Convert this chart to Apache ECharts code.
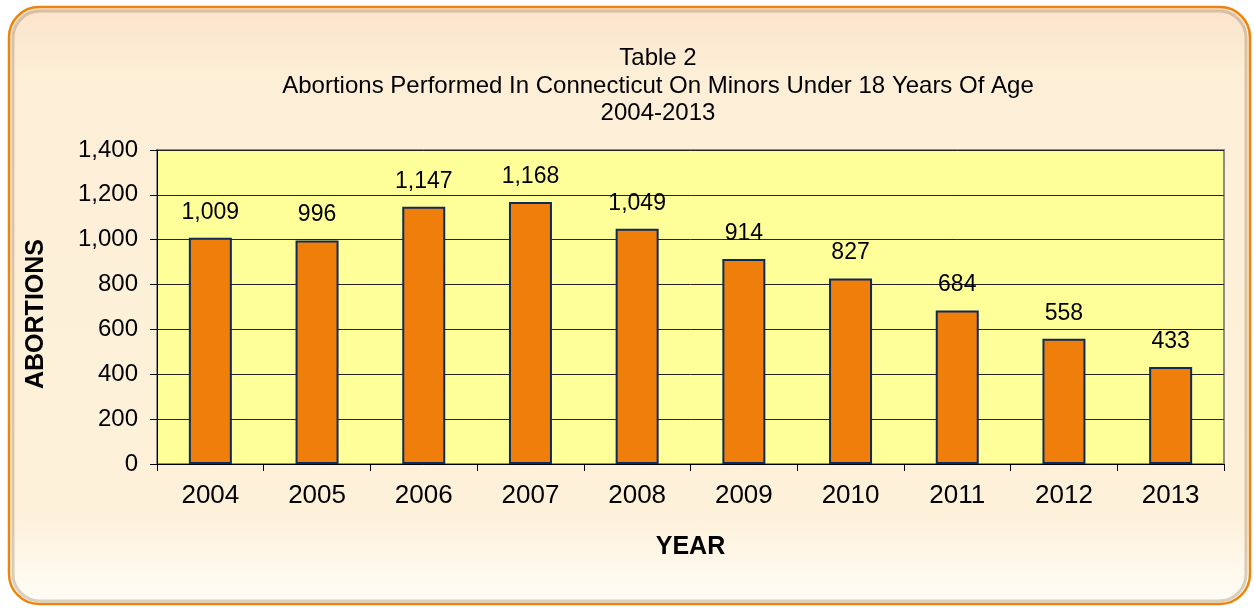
<!DOCTYPE html>
<html>
<head>
<meta charset="utf-8">
<script src="https://cdn.jsdelivr.net/npm/echarts@6/dist/echarts.min.js"></script>
<style>
html,body{margin:0;padding:0;background:#ffffff;}
#chart{width:1254px;height:608px;}
</style>
</head>
<body>
<div id="chart"></div>
<script>
var titleLines = ['Table 2', 'Abortions Performed In Connecticut On Minors Under 18 Years Of Age', '2004-2013'];
var years = ['2004','2005','2006','2007','2008','2009','2010','2011','2012','2013'];
var abortions = [1009, 996, 1147, 1168, 1049, 914, 827, 684, 558, 433];
var yAxisName = 'ABORTIONS';
var xAxisName = 'YEAR';

function fmt(v){ return String(v).replace(/\B(?=(\d{3})+(?!\d))/g, ','); }

var chart = echarts.init(document.getElementById('chart'), null, {renderer:'canvas'});
var font = 'Liberation Sans, Arial, sans-serif';
chart.setOption({
  animation: false,
  graphic: [
    {type:'rect', z:-10, silent:true,
     shape:{x:9, y:7, width:1241, height:597, r:30},
     style:{fill:new echarts.graphic.LinearGradient(0,0,0,1,[
        {offset:0, color:'#FBE3CB'},{offset:0.12, color:'#FDEFD7'},
        {offset:0.85, color:'#FEF1DA'},{offset:1, color:'#FFFDF8'}]),
        stroke:'#EC8510', lineWidth:2.5}},
    {type:'rect', z:-9, silent:true,
     shape:{x:13, y:11, width:1233, height:590, r:27},
     style:{fill:'none', stroke:'rgba(150,120,90,0.35)', lineWidth:3}},
    {type:'text', z:10, silent:true,
     style:{text:titleLines.join('\n'), x:658, y:45, textAlign:'center', textVerticalAlign:'top',
       font:'24px ' + font, lineHeight:27.5, fill:'#000'}}
  ],
  grid: {left:157, right:30, top:150, bottom:144, show:true, backgroundColor:'#FFFF99', borderColor:'#8C8C8C', borderWidth:2},
  xAxis: {
    type:'category', data:years,
    name:xAxisName, nameLocation:'middle', nameGap:71,
    nameTextStyle:{fontSize:25, fontWeight:'bold', color:'#000', fontFamily:font},
    axisLine:{show:true, lineStyle:{color:'#000', width:1}},
    axisTick:{show:true, alignWithLabel:false, length:7, lineStyle:{color:'#000'}},
    axisLabel:{fontSize:26, color:'#000', margin:19, fontFamily:font}
  },
  yAxis: {
    type:'value', min:0, max:1400, interval:200,
    name:yAxisName, nameLocation:'middle', nameGap:108, nameRotate:90,
    nameTextStyle:{fontSize:25, fontWeight:'bold', color:'#000', fontFamily:font, padding:[0,0,0,-14]},
    axisLine:{show:true, lineStyle:{color:'#000', width:1}},
    axisTick:{show:true, length:7, lineStyle:{color:'#000'}},
    axisLabel:{fontSize:24, color:'#000', margin:19, fontFamily:font, formatter:function(v){return fmt(v);}},
    splitLine:{show:true, lineStyle:{color:'#222', width:1}}
  },
  series: [{
    type:'bar', data:abortions, barWidth:43,
    itemStyle:{color:'#EF7F0A', borderColor:'#0C2A5C', borderWidth:2},
    label:{show:true, position:'top', distance:14, fontSize:23, color:'#000', fontFamily:font,
      formatter:function(p){return fmt(p.value);}}
  }]
});
</script>
</body>
</html>
